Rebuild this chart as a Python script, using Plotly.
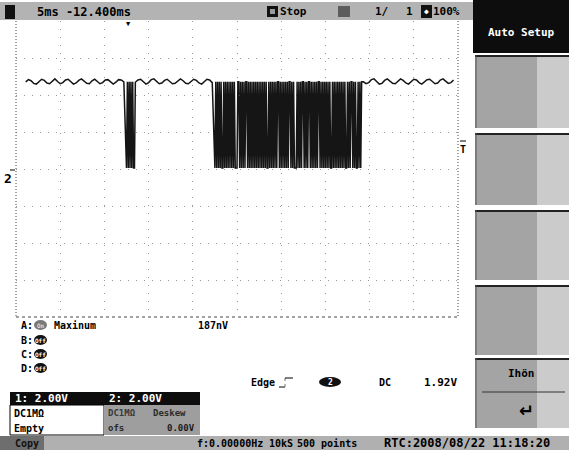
import plotly.graph_objects as go

# ---------------- data ----------------
sample_ms = 0.1          # 10 kS/s, 500 points
idle_step_ms = 0.3
high_level_v = 5.3
low_level_v = 0.65

idle1_start_ms = 1.1
idle1_volts = [5.30, 5.42, 5.36, 5.22, 5.18, 5.30, 5.44, 5.38, 5.24, 5.20,
               5.34, 5.46, 5.32, 5.20, 5.26, 5.40, 5.44, 5.30, 5.18, 5.24,
               5.38, 5.46, 5.34, 5.22, 5.20, 5.36, 5.44, 5.32, 5.20, 5.26,
               5.40, 5.42, 5.28, 5.18, 5.28, 5.42, 5.40, 5.30]

pulse1_start_ms = 12.5
pulse1_bits = "0101010100"

idle2_start_ms = 13.5
idle2_volts = [5.28, 5.40, 5.44, 5.30, 5.18, 5.26, 5.42, 5.46, 5.32, 5.20,
               5.24, 5.38, 5.44, 5.34, 5.20, 5.22, 5.36, 5.46, 5.36, 5.22,
               5.20, 5.34, 5.44, 5.38, 5.24, 5.18, 5.30, 5.44, 5.40, 5.26]

burst_start_ms = 22.5
burst_bits = ("0101010100" "10101010" "101010001" "1010101" "0110101"
              "010101010" "1010101010" "0101010" "10101101" "0101010101"
              "1010100" "01010101" "101010110" "1010101011" "0101010101"
              "0100101010" "1010101010" "010101" "1010100101011")

idle3_volts = [5.30, 5.20, 5.26, 5.42, 5.46, 5.32, 5.18, 5.22, 5.38, 5.46,
               5.36, 5.22, 5.20, 5.34, 5.46, 5.38, 5.24, 5.18, 5.30, 5.44,
               5.40, 5.26, 5.18, 5.28, 5.42, 5.44, 5.30, 5.20, 5.24, 5.40,
               5.46, 5.34, 5.22, 5.26, 5.40]

timebase_label = "5ms -12.400ms"
run_state = "Stop"
acq_count = ["1/", "1"]
zoom_label = "100%"
softkey_top = "Auto Setup"
softkey_bottom = "Ihön"
math_rows = [("A:", "Maxinum", "187nV", True), ("B:", "", "", False),
             ("C:", "", "", False), ("D:", "", "", False)]
trigger_labels = ["Edge", "2", "DC", "1.92V"]
channel_scales = ["1: 2.00V", "2: 2.00V"]
channel1_info = ["DC1MΩ", "Empty"]
channel2_info = [("DC1MΩ", "Deskew"), ("ofs", "0.00V")]
status_labels = ["Copy", "f:0.00000Hz", "10kS", "500 points",
                 "RTC:2008/08/22 11:18:20"]

# ---------------- build trace ----------------
t, v = [], []
for i, val in enumerate(idle1_volts):
    t.append(idle1_start_ms + i * idle_step_ms); v.append(val)
for i, b in enumerate(pulse1_bits):
    t.append(pulse1_start_ms + i * sample_ms)
    v.append(high_level_v if b == "1" else low_level_v)
for i, val in enumerate(idle2_volts):
    t.append(idle2_start_ms + i * idle_step_ms); v.append(val)
for i, b in enumerate(burst_bits):
    t.append(burst_start_ms + i * sample_ms)
    v.append(high_level_v if b == "1" else low_level_v)
idle3_start_ms = burst_start_ms + len(burst_bits) * sample_ms
for i, val in enumerate(idle3_volts):
    t.append(idle3_start_ms + i * idle_step_ms); v.append(val)

# ---------------- figure geometry ----------------
W, H = 569, 450
PL, PR, PT, PB = 16, 458, 21, 317


def X(px):
    return (px - PL) / (PR - PL)


def Y(py):
    return (PB - py) / (PB - PT)


FONT = "DejaVu Sans Mono, Liberation Mono, monospace"
shapes, annots = [], []


def rect(x0, y0, x1, y1, fill, line=None, lw=0):
    shapes.append(dict(type="rect", xref="paper", yref="paper",
                       x0=X(x0), x1=X(x1), y0=Y(y1), y1=Y(y0),
                       fillcolor=fill, line=dict(color=line or fill, width=lw),
                       layer="above"))


def ell(x0, y0, x1, y1, fill):
    shapes.append(dict(type="circle", xref="paper", yref="paper",
                       x0=X(x0), x1=X(x1), y0=Y(y1), y1=Y(y0),
                       fillcolor=fill, line=dict(color=fill, width=0)))


def seg(x0, y0, x1, y1, color="black", w=1, dash="solid"):
    shapes.append(dict(type="line", xref="paper", yref="paper",
                       x0=X(x0), x1=X(x1), y0=Y(y0), y1=Y(y1),
                       line=dict(color=color, width=w, dash=dash)))


def txt(px, py, s, size=10, color="black", anchor="left", weight="bold",
        family=FONT):
    annots.append(dict(xref="paper", yref="paper", x=X(px), y=Y(py),
                       text=s, showarrow=False, xanchor=anchor,
                       yanchor="middle", borderpad=0,
                       font=dict(family=family, size=size, color=color,
                                 weight=weight)))


# top status bar
rect(0, 2, 473, 20, "#b3b3b3")
rect(5, 5, 15, 19, "#111111")
txt(36, 12, timebase_label, 12)
rect(267, 6, 278, 17, "#111111")
rect(270, 9, 275, 14, "#9a9a9a")
txt(279, 12, run_state, 11)
rect(338, 6, 350, 17, "#5c5c5c")
txt(374, 12, acq_count[0], 11)
txt(405, 12, acq_count[1], 11)
rect(421, 5, 432, 18, "#111111")
txt(426.5, 11.5, "◆", 8, "white", "center")
txt(432, 12, zoom_label, 11)
txt(128, 24, "▼", 7, "black", "center")

# right soft keys
rect(473, 0, 569, 53, "#0d0d0d")
txt(521, 32, softkey_top, 11, "white", "center")
for (y0, y1) in [(55, 128), (133, 205), (210, 280), (285, 355), (358, 428)]:
    rect(475, y0, 569, y1, "#a4a4a4")
    rect(537, y0, 569, y1, "#cbcbcb")
    seg(475, y0 + 1, 569, y0 + 1, "#222222", 2)
    seg(476, y0, 476, y1, "#555555", 1)
txt(521, 373, softkey_bottom, 11, "black", "center")
seg(482, 392, 565, 392, "#333333", 1)
txt(526, 410, "↵", 18, "black", "center", "bold",
    "DejaVu Sans, sans-serif")

# channel markers on the graticule
txt(3, 178, "2", 13, "black", "left")
seg(10, 170, 15, 170, "black", 1)
txt(463, 149, "T", 10, "black", "center")
seg(460, 141, 466, 141, "black", 1)

# math rows A-D
row_y = [325, 340, 354, 368]
for (lab, name, val, on), yy in zip(math_rows, row_y):
    txt(20, yy, lab, 10)
    if on:
        ell(34, yy - 5, 47, yy + 5, "#7a7a7a")
        txt(40.5, yy, "On", 6, "#dddddd", "center")
        txt(53, yy, name, 10)
        txt(197, yy, val, 10)
    else:
        ell(34, yy - 5, 47, yy + 5, "#111111")
        txt(40.5, yy, "Off", 6, "white", "center")

# trigger line
ty = 382
txt(250, ty, trigger_labels[0], 10)
seg(279, ty + 5, 285, ty + 5, "black", 1)
seg(285, ty + 5, 285, ty - 4, "#777777", 1, "dot")
seg(285, ty - 4, 293, ty - 4, "black", 1)
ell(319, ty - 5, 341, ty + 5, "#111111")
txt(330, ty, trigger_labels[1], 8, "white", "center")
txt(378, ty, trigger_labels[2], 10)
txt(423, ty, trigger_labels[3], 11)

# channel info box
rect(10, 392, 200, 405, "#0d0d0d")
txt(14, 398.5, channel_scales[0], 11, "white")
txt(108, 398.5, channel_scales[1], 11, "white")
rect(10, 405, 104, 435, "white", "black", 1)
txt(13, 413, channel1_info[0], 10)
txt(13, 428, channel1_info[1], 10)
rect(104, 405, 200, 435, "#9e9e9e")
txt(107, 413, channel2_info[0][0], 9, "#3a3a3a")
txt(152, 413, channel2_info[0][1], 9, "#2a2a2a")
txt(107, 428, channel2_info[1][0], 9, "#2a2a2a")
txt(166, 428, channel2_info[1][1], 9, "#1a1a1a")

# bottom status bar
rect(0, 436, 569, 450, "#b0b0b0")
rect(0, 436, 44, 450, "#6e6e6e")
txt(14, 443, status_labels[0], 10, "#111111")
txt(196, 443, status_labels[1], 10)
txt(268, 443, status_labels[2], 10)
txt(296, 443, status_labels[3], 10)
txt(383, 443, status_labels[4], 12)

# graticule border (dotted) : left, right, bottom
seg(PL, PT, PL, PB, "#444444", 1, "1px,2px")
seg(PR, PT, PR, PB, "#444444", 1, "1px,2px")
seg(PL, PB, PR, PB, "#444444", 1, "3px,3px")

fig = go.Figure()
fig.add_trace(go.Scatter(x=t, y=v, mode="lines",
                         line=dict(color="#151515", width=1.5),
                         hoverinfo="skip", showlegend=False))

grid = dict(showgrid=True, gridcolor="#9a9a9a", gridwidth=1,
            griddash="1px,7px", zeroline=False, showticklabels=False,
            ticks="", showline=False, fixedrange=True)
fig.update_xaxes(range=[0, 50], tick0=0, dtick=5, **grid)
fig.update_yaxes(range=[-7.41, 8.59], tick0=0.59, dtick=2, **grid)
fig.update_layout(width=W, height=H,
                  margin=dict(l=PL, r=W - PR, t=PT, b=H - PB),
                  paper_bgcolor="white", plot_bgcolor="white",
                  shapes=shapes, annotations=annots, showlegend=False)
fig.write_html("out.html", config={"displayModeBar": False},
               post_script="document.body.style.margin='0';"
                           "document.body.style.overflow='hidden';")
